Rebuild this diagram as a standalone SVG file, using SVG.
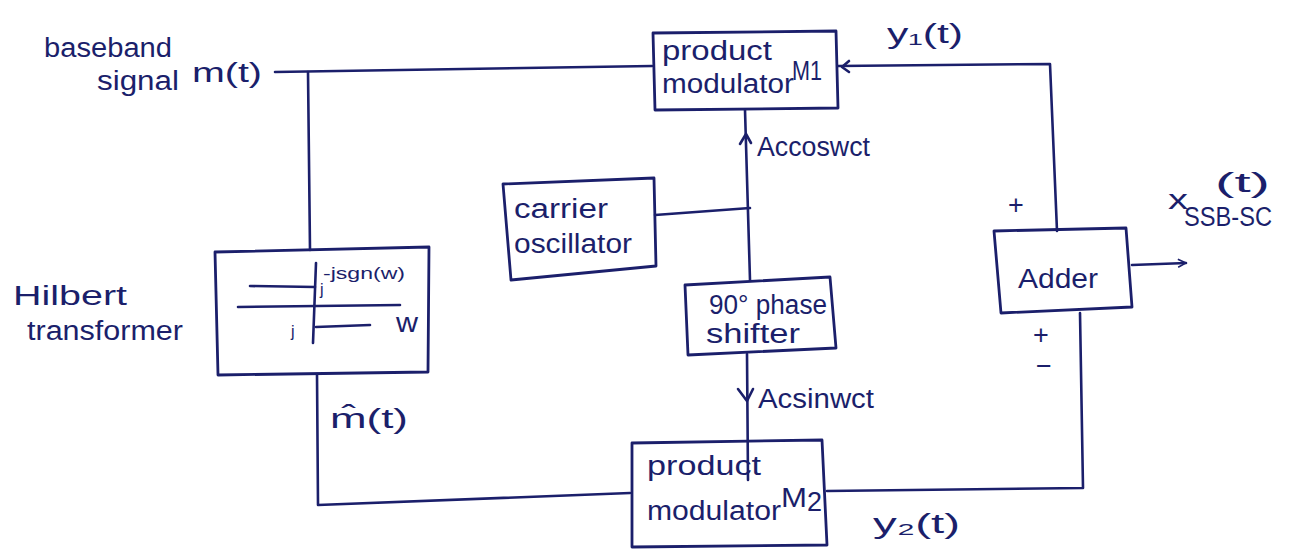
<svg xmlns="http://www.w3.org/2000/svg" width="1290" height="553" viewBox="0 0 1290 553">
<defs>
<style>
.ln{fill:none;stroke:#1b1f6b;stroke-width:2.6;stroke-linecap:round;stroke-linejoin:round}
.bx{fill:none;stroke:#1b1f6b;stroke-width:2.8;stroke-linejoin:round}
.t{font-family:"Liberation Sans",Arial,sans-serif;fill:#1b1f6b;font-size:27px}
.s{font-family:"Liberation Sans",Arial,sans-serif;fill:#1b1f6b;font-size:16px}
</style>
<marker id="ah" viewBox="0 0 10 10" refX="9" refY="5" markerWidth="10" markerHeight="10" markerUnits="userSpaceOnUse" orient="auto">
<path d="M1,1 L9,5 L1,9" fill="none" stroke="#1b1f6b" stroke-width="1.6"/>
</marker>
</defs>
<rect width="1290" height="553" fill="#ffffff"/>

<g id="labels">
<text class="t" x="44" y="57" textLength="128" lengthAdjust="spacingAndGlyphs">baseband</text>
<text class="t" x="97" y="90" textLength="82" lengthAdjust="spacingAndGlyphs">signal</text>
<text class="t" x="192" y="82" textLength="70" lengthAdjust="spacingAndGlyphs">m(t)</text>
<text class="t" x="13" y="305" textLength="114" lengthAdjust="spacingAndGlyphs">Hilbert</text>
<text class="t" x="27" y="340" textLength="156" lengthAdjust="spacingAndGlyphs">transformer</text>
<text class="t" x="330" y="428" textLength="78" lengthAdjust="spacingAndGlyphs">m̂(t)</text>
<text class="t" x="887" y="43" textLength="76" lengthAdjust="spacingAndGlyphs">y₁(t)</text>
<text class="t" x="873" y="533" textLength="87" lengthAdjust="spacingAndGlyphs">y₂(t)</text>
<text class="t" x="757" y="156" textLength="113" lengthAdjust="spacingAndGlyphs">Accoswct</text>
<text class="t" x="758" y="408" textLength="116" lengthAdjust="spacingAndGlyphs">Acsinwct</text>
<text class="t" x="1168" y="209" textLength="20" lengthAdjust="spacingAndGlyphs">x</text>
<text class="t" x="1184" y="226" font-size="22" textLength="88" lengthAdjust="spacingAndGlyphs">SSB-SC</text>
<text class="t" x="1215" y="192" font-size="22" textLength="55" lengthAdjust="spacingAndGlyphs">(t)</text>
<text class="t" x="1008" y="214" font-size="42">+</text>
<text class="t" x="1033" y="344" font-size="24">+</text>
<text class="t" x="1036" y="375" font-size="22">−</text>
</g>

<g id="product-modulator-m1">
<path class="bx" d="M653,33 L836,31 L838,108 L655,110 Z"/>
<text class="t" x="662" y="60" textLength="110" lengthAdjust="spacingAndGlyphs">product</text>
<text class="t" x="662" y="93" textLength="132" lengthAdjust="spacingAndGlyphs">modulator</text>
<text class="t" x="792" y="80" font-size="19" textLength="30" lengthAdjust="spacingAndGlyphs">M1</text>
</g>

<g id="hilbert-transformer">
<path class="bx" d="M215,252 L429,247 L428,372 L218,375 Z"/>
<line class="ln" x1="316" y1="263" x2="313" y2="343"/>
<line class="ln" x1="238" y1="307" x2="400" y2="305"/>
<line class="ln" x1="250" y1="286" x2="315" y2="287"/>
<line class="ln" x1="316" y1="327" x2="370" y2="325"/>
<text class="s" x="323" y="279" textLength="82" lengthAdjust="spacingAndGlyphs">-jsgn(w)</text>
<text class="s" x="320" y="295" font-size="18">j</text>
<text class="s" x="291" y="337" font-size="18">j</text>
<text class="t" x="396" y="332" textLength="22" lengthAdjust="spacingAndGlyphs">w</text>
</g>

<g id="carrier-oscillator">
<path class="bx" d="M503,184 L654,178 L656,266 L511,280 Z"/>
<text class="t" x="514" y="218" textLength="94" lengthAdjust="spacingAndGlyphs">carrier</text>
<text class="t" x="514" y="253" textLength="118" lengthAdjust="spacingAndGlyphs">oscillator</text>
</g>

<g id="phase-shifter">
<path class="bx" d="M685,285 L830,277 L836,348 L688,355 Z"/>
<text class="t" x="709" y="314" textLength="118" lengthAdjust="spacingAndGlyphs">90° phase</text>
<text class="t" x="706" y="343" textLength="94" lengthAdjust="spacingAndGlyphs">shifter</text>
</g>

<g id="product-modulator-m2">
<path class="bx" d="M632,443 L822,440 L827,545 L632,547 Z"/>
<text class="t" x="647" y="475" textLength="114" lengthAdjust="spacingAndGlyphs">product</text>
<text class="t" x="647" y="520" textLength="134" lengthAdjust="spacingAndGlyphs">modulator</text>
<text class="t" x="781" y="507" font-size="30" textLength="26" lengthAdjust="spacingAndGlyphs">M</text>
<text class="t" x="807" y="511" font-size="19">2</text>
</g>

<g id="adder">
<path class="bx" d="M994,231 L1126,228 L1132,307 L1001,313 Z"/>
<text class="t" x="1018" y="288" textLength="80" lengthAdjust="spacingAndGlyphs">Adder</text>
</g>

<g id="connectors">
<polyline class="ln" points="275,72 652,66"/>
<polyline class="ln" points="308,72 310,250"/>
<polyline class="ln" points="317,374 318,505 630,493"/>
<polyline class="ln" points="745,110 750,280"/>
<path class="ln" d="M740,144 L746,134 L751,143"/>
<polyline class="ln" points="655,215 750,208"/>
<polyline class="ln" points="747,354 748,480"/>
<path class="ln" d="M738,389 L747,401 L753,389"/>
<polyline class="ln" points="838,66 1050,64 1057,231"/>
<path class="ln" d="M849,61 L842,67 L849,72"/>
<polyline class="ln" points="827,491 1083,488 1080,313"/>
<line class="ln" x1="1132" y1="265" x2="1186" y2="263" marker-end="url(#ah)"/>
</g>
</svg>
